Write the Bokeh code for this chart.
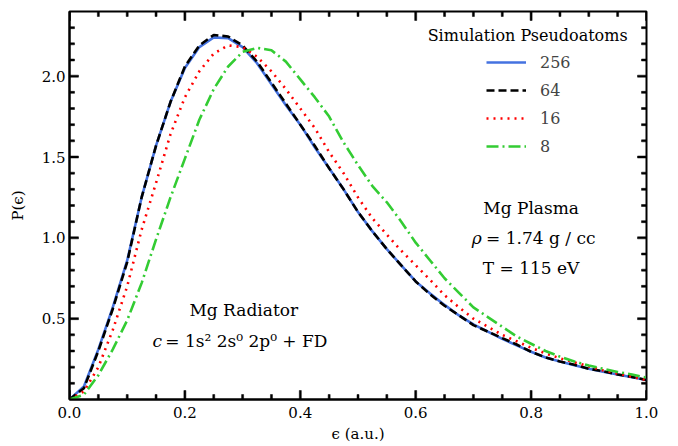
import numpy as np
from bokeh.plotting import figure
from bokeh.models import (FixedTicker, Label, Legend, LegendItem, Range1d,
                          PrintfTickFormatter)
from bokeh.embed import file_html
from bokeh.resources import INLINE

# ---------------- data ----------------
eps = [0.0, 0.025, 0.05, 0.075, 0.1, 0.125, 0.15, 0.175, 0.2, 0.225, 0.25, 0.275,
       0.3, 0.325, 0.35, 0.375, 0.4, 0.425, 0.45, 0.475, 0.5, 0.525, 0.55, 0.575,
       0.6, 0.625, 0.65, 0.675, 0.7, 0.725, 0.75, 0.775, 0.8, 0.825, 0.85, 0.875,
       0.9, 0.925, 0.95, 0.975, 1.0]

p256 = [0.0, 0.08, 0.31, 0.57, 0.86, 1.25, 1.57, 1.84, 2.05, 2.18, 2.24, 2.235,
        2.18, 2.08, 1.95, 1.82, 1.70, 1.56, 1.43, 1.30, 1.16, 1.04, 0.93, 0.83,
        0.73, 0.655, 0.585, 0.52, 0.465, 0.42, 0.375, 0.335, 0.295, 0.26, 0.235,
        0.212, 0.19, 0.172, 0.155, 0.138, 0.12]

p64 = [0.0, 0.07, 0.30, 0.56, 0.85, 1.25, 1.57, 1.84, 2.06, 2.19, 2.255, 2.245,
       2.19, 2.09, 1.96, 1.83, 1.70, 1.57, 1.43, 1.30, 1.16, 1.04, 0.93, 0.83,
       0.73, 0.65, 0.58, 0.52, 0.46, 0.42, 0.38, 0.34, 0.295, 0.26, 0.235,
       0.215, 0.19, 0.175, 0.155, 0.14, 0.12]

p16 = [0.0, 0.05, 0.20, 0.43, 0.70, 1.05, 1.34, 1.64, 1.87, 2.03, 2.14, 2.19,
       2.18, 2.12, 2.03, 1.92, 1.80, 1.68, 1.53, 1.40, 1.25, 1.12, 1.02, 0.92,
       0.83, 0.74, 0.645, 0.57, 0.50, 0.45, 0.40, 0.36, 0.32, 0.285, 0.255,
       0.23, 0.205, 0.18, 0.16, 0.14, 0.12]

p8 = [0.0, 0.03, 0.15, 0.31, 0.49, 0.72, 0.99, 1.25, 1.49, 1.73, 1.92, 2.06,
      2.15, 2.175, 2.16, 2.09, 1.98, 1.87, 1.75, 1.59, 1.45, 1.32, 1.22, 1.10,
      0.97, 0.86, 0.75, 0.66, 0.57, 0.51, 0.45, 0.39, 0.345, 0.30, 0.265,
      0.235, 0.21, 0.19, 0.17, 0.155, 0.135]

series_labels = ["256", "64", "16", "8"]
x_ticks = [0.0, 0.2, 0.4, 0.6, 0.8, 1.0]
y_ticks = [0.5, 1.0, 1.5, 2.0]
x_minor = [round(0.05 * i, 2) for i in range(21)]
y_minor = [round(0.1 * i, 1) for i in range(25)]

FONT = "DejaVu Serif"
X0, X1, Y0, Y1 = 0.0, 1.0, 0.0, 2.4
FW, FH = 577, 388          # frame size in px
MAJ, MIN = 9, 5            # tick lengths in px
TW = 2.0                   # tick thickness in px

p = figure(width=678, height=446, output_backend="svg", toolbar_location=None,
           x_range=Range1d(X0, X1), y_range=Range1d(Y0, Y1),
           min_border_left=69, min_border_right=32, min_border_top=11,
           min_border_bottom=47, x_axis_label="ϵ (a.u.)", y_axis_label="P(ϵ)")
p.grid.visible = False
p.outline_line_color = "black"
p.outline_line_width = 2
p.background_fill_color = "white"
p.border_fill_color = "white"

for ax, ticks in ((p.xaxis[0], x_ticks), (p.yaxis[0], y_ticks)):
    ax.ticker = FixedTicker(ticks=ticks)
    ax.formatter = PrintfTickFormatter(format="%.1f")
    ax.major_tick_in = 0
    ax.major_tick_out = 0
    ax.minor_tick_in = 0
    ax.minor_tick_out = 0
    ax.axis_line_color = "black"
    ax.axis_line_width = 2
    ax.major_label_text_font = FONT
    ax.major_label_text_font_size = "15px"
    ax.major_label_text_color = "black"
    ax.axis_label_text_font = FONT
    ax.axis_label_text_font_size = "15px"
    ax.axis_label_text_font_style = "normal"
    ax.axis_label_text_color = "black"
p.xaxis[0].major_label_standoff = 7
p.xaxis[0].axis_label_standoff = 4
p.yaxis[0].major_label_standoff = 4
p.yaxis[0].axis_label_standoff = 12

# inward ticks on all four sides, drawn as thin filled quads
px_x = (X1 - X0) / FW      # one pixel in data units
px_y = (Y1 - Y0) / FH
xt_min = [t for t in x_minor if t not in x_ticks]
yt_min = [t for t in y_minor if t not in y_ticks and 0 < t < Y1]

L, R, B, T = [], [], [], []
for ticks, ln in ((x_ticks, MAJ), (xt_min, MIN)):
    for t in ticks:
        for base, sgn in ((Y0, 1), (Y1, -1)):
            L.append(t - TW / 2 * px_x); R.append(t + TW / 2 * px_x)
            B.append(min(base, base + sgn * ln * px_y))
            T.append(max(base, base + sgn * ln * px_y))
for ticks, ln in ((y_ticks, MAJ), (yt_min, MIN)):
    for t in ticks:
        for base, sgn in ((X0, 1), (X1, -1)):
            B.append(t - TW / 2 * px_y); T.append(t + TW / 2 * px_y)
            L.append(min(base, base + sgn * ln * px_x))
            R.append(max(base, base + sgn * ln * px_x))
p.quad(left=L, right=R, bottom=B, top=T, fill_color="black", line_color="black",
       line_width=0.5)

r256 = p.line(eps, p256, line_color="#4472e0", line_width=2.6)
r64 = p.line(eps, p64, line_color="black", line_width=2.6, line_dash="8 4")
r16 = p.line(eps, p16, line_color="red", line_width=2.6, line_dash="2 5")
r8 = p.line(eps, p8, line_color="#33cc33", line_width=2.6, line_dash="12 4 2 4")

legend = Legend(items=[LegendItem(label=series_labels[0], renderers=[r256]),
                       LegendItem(label=series_labels[1], renderers=[r64]),
                       LegendItem(label=series_labels[2], renderers=[r16]),
                       LegendItem(label=series_labels[3], renderers=[r8])],
                location=(417, 243), padding=0, margin=0, spacing=8,
                glyph_width=40, glyph_height=20, label_standoff=14,
                label_text_font=FONT, label_text_font_size="16px",
                border_line_alpha=0, background_fill_alpha=0)
p.add_layout(legend, "center")

def lab(x, y, t, size="17px", style="normal", align="center"):
    p.add_layout(Label(x=x, y=y, text=t, text_font=FONT, text_font_size=size,
                       text_font_style=style, text_align=align,
                       text_baseline="middle", text_color="black"))

lab(0.794, 2.253, "Simulation Pseudoatoms", "16px")
lab(0.800, 1.185, "Mg Plasma")
lab(0.697, 1.000, "ρ", style="italic", align="left")
lab(0.722, 1.000, "= 1.74 g / cc", align="left")
lab(0.800, 0.815, "T = 115 eV")
lab(0.302, 0.556, "Mg Radiator")
lab(0.144, 0.364, "c", style="italic", align="left")
lab(0.166, 0.364, "= 1s² 2s⁰ 2p⁰ + FD", align="left")

open("out.html", "w").write(file_html(p, INLINE))
